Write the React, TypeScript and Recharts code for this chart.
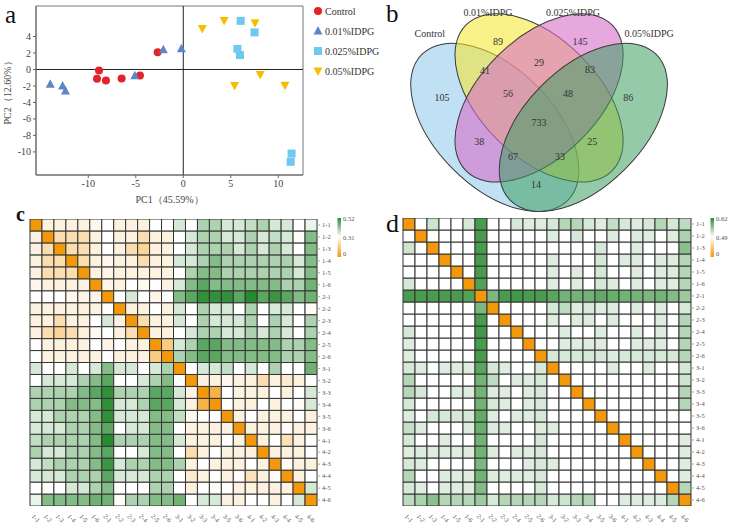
import React from 'react';
import {
  ScatterChart,
  Scatter,
  XAxis,
  YAxis,
  ReferenceLine,
  ReferenceArea,
  BarChart,
  Bar,
  Cell,
} from 'recharts';

const SERIF = '"Liberation Serif", "Times New Roman", serif';

// ---------- panel a: PCA scores ----------
const controlPts = [
  { x: -8.87, y: -0.12 }, { x: -9.08, y: -1.13 }, { x: -8.14, y: -1.33 },
  { x: -6.49, y: -1.09 }, { x: -4.56, y: -0.73 }, { x: -2.7, y: 2.1 },
];
const idpg01Pts = [
  { x: -14.0, y: -1.8 }, { x: -12.7, y: -2.0 }, { x: -12.4, y: -2.6 },
  { x: -5.1, y: -0.76 }, { x: -2.1, y: 2.4 }, { x: -0.2, y: 2.5 },
];
const idpg025Pts = [
  { x: 6.04, y: 5.9 }, { x: 7.5, y: 4.5 }, { x: 5.7, y: 2.5 },
  { x: 5.97, y: 1.75 }, { x: 11.4, y: -10.2 }, { x: 11.3, y: -11.2 },
];
const idpg05Pts = [
  { x: 2.0, y: 4.97 }, { x: 4.3, y: 5.94 }, { x: 7.55, y: 5.66 },
  { x: 8.1, y: -0.6 }, { x: 5.4, y: -1.94 }, { x: 10.7, y: -1.9 },
];
const pcaXTicks = [-10, -5, 0, 5, 10];
const pcaYTicks = [-10, -8, -6, -4, -2, 0, 2, 4];
const groupNames = ['Control', '0.01%IDPG', '0.025%IDPG', '0.05%IDPG'];

// ---------- panel b: Venn counts ----------
const vennCounts = [105, 89, 145, 86, 41, 29, 83, 56, 48, 733, 38, 25, 67, 33, 14];

// ---------- panels c/d: distance matrices (upper triangles) ----------
const sampleLabels = [
  '1-1', '1-2', '1-3', '1-4', '1-5', '1-6',
  '2-1', '2-2', '2-3', '2-4', '2-5', '2-6',
  '3-1', '3-2', '3-3', '3-4', '3-5', '3-6',
  '4-1', '4-2', '4-3', '4-4', '4-5', '4-6',
];

const upperC = [
  [0, .27, .27, .27, .27, .29, .31, .27, .27, .27, .31, .31, .35, .31, .39, .39, .35, .35, .37, .39, .35, .35, .31, .33],
  [0, .21, .21, .21, .27, .31, .27, .27, .21, .27, .27, .31, .35, .39, .39, .35, .35, .39, .35, .37, .35, .30, .43],
  [0, .21, .21, .27, .31, .27, .21, .18, .27, .27, .31, .35, .39, .39, .39, .35, .39, .35, .39, .35, .31, .43],
  [0, .21, .27, .29, .27, .27, .21, .27, .27, .35, .35, .39, .43, .39, .39, .39, .39, .39, .39, .35, .43],
  [0, .27, .28, .27, .27, .27, .27, .27, .31, .39, .43, .43, .39, .39, .39, .39, .39, .39, .35, .43],
  [0, .28, .27, .31, .29, .31, .27, .35, .43, .47, .43, .43, .43, .43, .43, .43, .39, .39, .45],
  [0, .31, .35, .31, .28, .31, .43, .47, .51, .51, .51, .47, .52, .47, .50, .47, .43, .45],
  [0, .27, .27, .31, .27, .35, .31, .39, .35, .35, .31, .39, .31, .35, .35, .31, .30],
  [0, .21, .27, .27, .35, .31, .39, .35, .35, .35, .39, .31, .39, .35, .31, .39],
  [0, .27, .27, .31, .35, .39, .39, .35, .35, .39, .35, .39, .35, .31, .39],
  [0, .15, .35, .39, .47, .47, .43, .43, .43, .43, .43, .39, .39, .43],
  [0, .39, .43, .47, .47, .43, .43, .43, .43, .43, .39, .39, .43],
  [0, .31, .35, .35, .37, .31, .35, .31, .39, .31, .31, .45],
  [0, .27, .27, .29, .27, .27, .21, .27, .25, .27, .31],
  [0, .08, .31, .27, .27, .27, .31, .27, .31, .35],
  [0, .31, .27, .27, .31, .27, .31, .30, .35],
  [0, .27, .31, .27, .27, .27, .31, .27],
  [0, .27, .27, .27, .30, .27, .27],
  [0, .27, .31, .22, .27, .31],
  [0, .27, .27, .27, .31],
  [0, .30, .27, .27],
  [0, .27, .31],
  [0, .35],
  [0],
];

const upperD = [
  [0, .49, .52, .49, .49, .515, .60, .49, .49, .515, .51, .51, .515, .535, .535, .515, .51, .525, .515, .51, .515, .535, .515, .53],
  [0, .485, .49, .49, .49, .60, .49, .49, .49, .49, .49, .51, .49, .515, .49, .49, .51, .49, .51, .51, .49, .51, .54],
  [0, .49, .49, .49, .60, .49, .49, .49, .49, .49, .49, .49, .49, .49, .515, .49, .49, .51, .49, .49, .49, .56],
  [0, .49, .49, .60, .49, .49, .49, .49, .49, .51, .49, .49, .49, .515, .49, .51, .51, .49, .51, .51, .535],
  [0, .49, .60, .49, .49, .49, .49, .49, .51, .49, .51, .49, .515, .49, .49, .51, .49, .51, .51, .535],
  [0, .595, .49, .49, .49, .49, .49, .51, .49, .51, .49, .515, .51, .49, .51, .49, .51, .51, .535],
  [0, .57, .60, .605, .60, .60, .59, .575, .575, .575, .585, .58, .575, .575, .57, .575, .565, .55],
  [0, .49, .49, .49, .49, .515, .53, .51, .515, .51, .51, .49, .51, .49, .51, .49, .515],
  [0, .49, .49, .49, .51, .49, .51, .51, .49, .51, .49, .49, .49, .51, .49, .535],
  [0, .49, .49, .49, .51, .49, .49, .51, .49, .49, .51, .49, .51, .49, .535],
  [0, .49, .49, .51, .51, .51, .51, .49, .49, .51, .51, .51, .49, .535],
  [0, .515, .515, .515, .515, .515, .51, .515, .515, .515, .515, .515, .535],
  [0, .49, .49, .49, .49, .51, .49, .49, .51, .49, .49, .515],
  [0, .49, .49, .49, .49, .49, .49, .49, .49, .49, .52],
  [0, .49, .49, .49, .49, .49, .49, .49, .49, .535],
  [0, .49, .49, .49, .49, .49, .49, .49, .535],
  [0, .49, .49, .49, .49, .49, .49, .49],
  [0, .49, .49, .49, .49, .49, .49],
  [0, .49, .49, .49, .49, .51],
  [0, .49, .49, .49, .51],
  [0, .49, .49, .51],
  [0, .49, .51],
  [0, .535],
  [0],
];

// symmetric matrix from the upper triangle
const fullMatrix = (up: number[][]) =>
  up.map((_, i) => up.map((__, j) => (j >= i ? up[i][j - i] : up[j][i - j])));

// ---------- colours ----------
const ORANGE = [243, 152, 10];
const GREEN = [40, 138, 46];
const mix = (t: number, c: number[]) => {
  const k = Math.max(0, Math.min(1, t));
  const ch = c.map(v => Math.round(255 + (v - 255) * k));
  return `rgb(${ch[0]},${ch[1]},${ch[2]})`;
};
const heatColor = (v: number, mid: number, hi: number) =>
  v <= mid ? mix((mid - v) / mid, ORANGE) : mix((v - mid) / (hi - mid), GREEN);

// ---------- marker shapes ----------
const circleShape = (p: any) => <circle cx={p.cx} cy={p.cy} r={4} fill="#E4222C" />;
const triShape = (p: any) => (
  <polygon points={`${p.cx},${p.cy - 5} ${p.cx - 4.5},${p.cy + 3.5} ${p.cx + 4.5},${p.cy + 3.5}`} fill="#5D86C8" />
);
const squareShape = (p: any) => <rect x={p.cx - 4} y={p.cy - 4} width={8} height={8} fill="#6EC8F0" />;
const invTriShape = (p: any) => (
  <polygon points={`${p.cx - 4.5},${p.cy - 3.5} ${p.cx + 4.5},${p.cy - 3.5} ${p.cx},${p.cy + 5}`} fill="#F4BF00" />
);
const legendIcons = [circleShape, triShape, squareShape, invTriShape];

const PcaPanel = () => (
  <div style={{ position: 'absolute', left: 0, top: 0 }}>
    <ScatterChart width={380} height={205} margin={{ top: 6, right: 77, bottom: 2, left: 10 }}>
      <XAxis
        type="number"
        dataKey="x"
        domain={[-15.5, 12.6]}
        ticks={pcaXTicks}
        allowDataOverflow
        height={28}
        tickSize={3}
        stroke="#666"
        tick={{ fontSize: 10, fill: '#444', fontFamily: SERIF }}
        label={{ value: 'PC1（45.59%）', position: 'insideBottom', offset: 0, style: { fontSize: 10, fill: '#444', fontFamily: SERIF } }}
      />
      <YAxis
        type="number"
        dataKey="y"
        domain={[-12.8, 7.7]}
        ticks={pcaYTicks}
        allowDataOverflow
        width={26}
        tickSize={3}
        stroke="#666"
        interval={0}
        tick={{ fontSize: 10, fill: '#444', fontFamily: SERIF }}
        label={{ value: 'PC2（12.60%）', angle: -90, position: 'insideLeft', offset: -3, style: { fontSize: 10, fill: '#444', fontFamily: SERIF, textAnchor: 'middle' } }}
      />
      <ReferenceArea x1={-15.5} x2={12.6} y1={-12.8} y2={7.7} fill="none" stroke="#777" strokeWidth={1} />
      <ReferenceLine x={0} stroke="#222" strokeWidth={1} />
      <ReferenceLine y={0} stroke="#222" strokeWidth={1} />
      <Scatter name="Control" data={controlPts} shape={circleShape} isAnimationActive={false} />
      <Scatter name="0.01%IDPG" data={idpg01Pts} shape={triShape} isAnimationActive={false} />
      <Scatter name="0.025%IDPG" data={idpg025Pts} shape={squareShape} isAnimationActive={false} />
      <Scatter name="0.05%IDPG" data={idpg05Pts} shape={invTriShape} isAnimationActive={false} />
    </ScatterChart>
    <svg width={70} height={80} style={{ position: 'absolute', left: 312, top: 0 }}>
      {groupNames.map((g, i) => (
        <g key={g}>
          {legendIcons[i]({ cx: 6, cy: 11 + i * 20 })}
          <text x={13} y={11 + i * 20} dominantBaseline="central" fontSize={10} fill="#333" fontFamily={SERIF}>{g}</text>
        </g>
      ))}
    </svg>
  </div>
);

// ---------- Venn layout (unit coords, y up) ----------
const VENN_UNIT = 295;
const VENN_A = 0.35;
const VENN_B = 0.2;
const vennEllipseCenters = [[0.35, 0.47], [0.5, 0.57], [0.5, 0.57], [0.65, 0.47]];
const vennEllipseRot = [45, 45, -45, -45];
const vennFills = ['#8CC7EB', '#F8E628', '#D76EC8', '#3E9E62'];
const vennAlpha = [0.55, 0.55, 0.6, 0.55];
const vennSetPos = [[0.13, 0.787], [0.327, 0.858], [0.615, 0.858], [0.873, 0.787]];
const vennCountPos = [
  [0.171, 0.573], [0.361, 0.76], [0.639, 0.76], [0.802, 0.573],
  [0.317, 0.662], [0.5, 0.689], [0.673, 0.665], [0.395, 0.584], [0.598, 0.584],
  [0.5, 0.485], [0.297, 0.421], [0.68, 0.421], [0.412, 0.37], [0.571, 0.373], [0.49, 0.278],
];

const ellipseShape = (p: any) => {
  const i = p.payload.i;
  return (
    <ellipse
      cx={p.cx}
      cy={p.cy}
      rx={VENN_A * VENN_UNIT}
      ry={VENN_B * VENN_UNIT}
      transform={`rotate(${vennEllipseRot[i]} ${p.cx} ${p.cy})`}
      fill={vennFills[i]}
      fillOpacity={vennAlpha[i]}
      stroke="#3a3a3a"
      strokeWidth={1}
    />
  );
};
const textShape = (p: any) => (
  <text x={p.cx} y={p.cy} textAnchor="middle" dominantBaseline="central" fontSize={10} fill="#333" fontFamily={SERIF}>
    {p.payload.label}
  </text>
);

const VennPanel = () => {
  const ellipses = groupNames.map((g, i) => ({ x: vennEllipseCenters[i][0], y: vennEllipseCenters[i][1], i }));
  const setLabels = groupNames.map((g, i) => ({ x: vennSetPos[i][0], y: vennSetPos[i][1], label: g }));
  const countLabels = vennCounts.map((n, i) => ({ x: vennCountPos[i][0], y: vennCountPos[i][1], label: String(n) }));
  return (
    <div style={{ position: 'absolute', left: 380, top: 0 }}>
      <ScatterChart width={350} height={215} margin={{ top: 0, right: 0, bottom: 0, left: 0 }}>
        <XAxis type="number" dataKey="x" domain={[-0.039, 1.147]} allowDataOverflow hide />
        <YAxis type="number" dataKey="y" domain={[0.173, 0.902]} allowDataOverflow hide />
        <Scatter data={ellipses} shape={ellipseShape} isAnimationActive={false} />
        <Scatter data={setLabels} shape={textShape} isAnimationActive={false} />
        <Scatter data={countLabels} shape={textShape} isAnimationActive={false} />
      </ScatterChart>
    </div>
  );
};

// ---------- heatmaps ----------
const ColTick = (p: any) => (
  <text
    transform={`translate(${p.x - 3},${p.y + 1}) rotate(45)`}
    fontSize={6.5}
    fill="#555"
    fontFamily={SERIF}
    textAnchor="start"
    dominantBaseline="central"
  >
    {p.payload.value}
  </text>
);

const rowTicks = sampleLabels.map((_, i) => i + 0.5);

const Heatmap = ({ upper, mid, hi, left, margin }: any) => {
  const matrix = fullMatrix(upper);
  const n = sampleLabels.length;
  const data = sampleLabels.map(name => {
    const o: Record<string, any> = { name };
    sampleLabels.forEach((_, r) => (o['r' + r] = 1));
    return o;
  });
  return (
    <div style={{ position: 'absolute', left, top: 200 }}>
      <BarChart width={365} height={325} data={data} margin={margin} barCategoryGap={0} barGap={0}>
        <XAxis dataKey="name" interval={0} tick={<ColTick />} tickLine={false} axisLine={false} height={15} />
        <YAxis
          orientation="right"
          type="number"
          domain={[0, n]}
          ticks={rowTicks}
          interval={0}
          allowDataOverflow
          width={20}
          axisLine={false}
          tickSize={3}
          tickLine={{ stroke: '#aaa' }}
          tickFormatter={(v: number) => sampleLabels[n - 1 - Math.floor(v)]}
          tick={{ fontSize: 6.5, fill: '#555', fontFamily: SERIF }}
        />
        {sampleLabels.map((_, k) => {
          const r = n - 1 - k;
          return (
            <Bar key={k} dataKey={'r' + r} stackId="s" stroke="#333" strokeWidth={1} isAnimationActive={false}>
              {sampleLabels.map((__, c) => (
                <Cell key={c} fill={heatColor(matrix[r][c], mid, hi)} />
              ))}
            </Bar>
          );
        })}
      </BarChart>
    </div>
  );
};

const ColorBar = ({ x, id, labels }: any) => (
  <g>
    <defs>
      <linearGradient id={id} x1="0" y1="0" x2="0" y2="1">
        <stop offset="0%" stopColor="rgb(40,138,46)" />
        <stop offset="48%" stopColor="#ffffff" />
        <stop offset="100%" stopColor="rgb(243,152,10)" />
      </linearGradient>
    </defs>
    <rect x={x} y={218} width={3.5} height={39} fill={`url(#${id})`} />
    {labels.map((t: string, i: number) => (
      <text key={t} x={x + 5.5} y={[221, 239.5, 256][i]} fontSize={6.5} fill="#555" fontFamily={SERIF}>{t}</text>
    ))}
  </g>
);

export default function App() {
  return (
    <div style={{ position: 'absolute', left: 0, top: 0, width: 730, height: 525, background: '#fff', overflow: 'hidden' }}>
      <PcaPanel />
      <VennPanel />
      <Heatmap upper={upperC} mid={0.31} hi={0.52} left={0} margin={{ top: 19, right: 28, bottom: 4, left: 30 }} />
      <Heatmap upper={upperD} mid={0.49} hi={0.62} left={365} margin={{ top: 18, right: 19, bottom: 4, left: 38 }} />
      <svg width={730} height={525} style={{ position: 'absolute', left: 0, top: 0, pointerEvents: 'none' }}>
        <ColorBar x={337.5} id="cbC" labels={['0.52', '0.31', '0']} />
        <ColorBar x={710.5} id="cbD" labels={['0.62', '0.49', '0']} />
        <text x={5} y={23} fontSize={25} fill="#111" fontFamily={SERIF}>a</text>
        <text x={386} y={22} fontSize={25} fill="#111" fontFamily={SERIF}>b</text>
        <text x={16} y={221} fontSize={20} fontWeight="bold" fill="#111" fontFamily={SERIF}>c</text>
        <text x={386} y={232} fontSize={26} fill="#111" fontFamily={SERIF}>d</text>
      </svg>
    </div>
  );
}
